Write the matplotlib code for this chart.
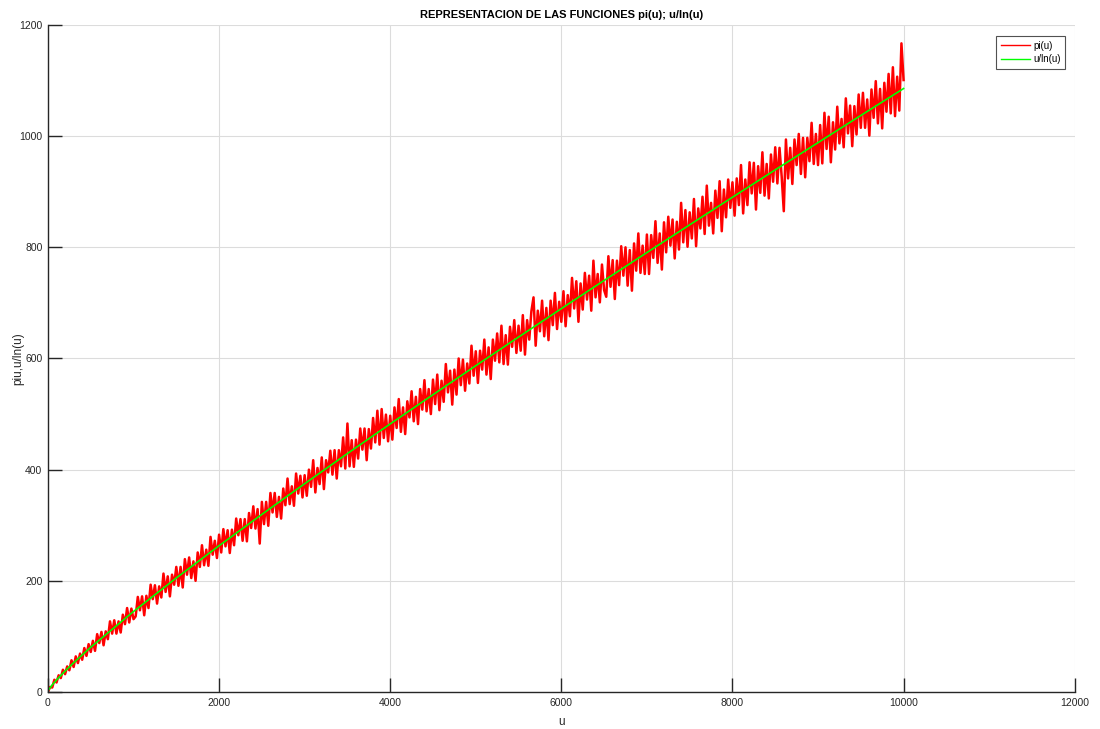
import matplotlib
matplotlib.use("Agg")
import matplotlib.pyplot as plt

plt.rcParams['font.family'] = ['Liberation Sans', 'DejaVu Sans']

# u/ln(u)
u_verde = [2, 10, 50, 100, 200, 300, 500, 1000, 1500, 2000, 2500, 3000, 3500,
           4000, 4500, 5000, 5500, 6000, 6500, 7000, 7500, 8000, 8500, 9000,
           9500, 10000]
ln_verde = [2.9, 4.3, 12.8, 21.7, 37.7, 52.6, 80.5, 144.8, 205.1, 263.1, 319.5,
            374.7, 429.0, 482.3, 534.9, 587.0, 638.5, 689.7, 740.4, 790.6,
            840.5, 890.1, 939.4, 988.4, 1037.2, 1085.7]

# pi(u) estimado cada 25 unidades (u = 25, 50, ..., 10000)
paso = 25
pi_rojo = [
    9, 8, 22, 17, 30, 25, 40, 32, 46, 39, 57, 45, 64, 52, 69, 58, 79, 65, 86, 72,
    92, 74, 104, 88, 108, 84, 109, 95, 127, 105, 129, 105, 127, 107, 139, 122, 151, 125, 150, 131,
    136, 171, 147, 172, 138, 173, 151, 193, 167, 192, 159, 190, 170, 213, 180, 208, 172, 211, 193, 225,
    191, 225, 188, 239, 211, 242, 205, 235, 200, 251, 225, 264, 228, 256, 227, 279, 247, 272, 241, 283,
    251, 293, 262, 291, 250, 292, 264, 312, 282, 311, 272, 311, 271, 322, 295, 334, 294, 329, 267, 342,
    302, 342, 299, 358, 323, 358, 315, 351, 312, 366, 336, 384, 338, 370, 335, 393, 357, 389, 350, 390,
    353, 400, 369, 417, 359, 403, 374, 422, 365, 417, 395, 434, 391, 435, 384, 435, 406, 458, 402, 483,
    406, 453, 405, 454, 420, 474, 436, 474, 417, 473, 438, 493, 449, 506, 445, 509, 457, 499, 451, 497,
    454, 512, 475, 527, 468, 512, 464, 523, 494, 541, 487, 531, 482, 545, 508, 561, 505, 545, 500, 562,
    518, 571, 507, 560, 522, 590, 539, 578, 517, 580, 535, 600, 552, 598, 542, 591, 555, 623, 569, 613,
    556, 614, 580, 634, 571, 620, 563, 634, 596, 645, 593, 659, 590, 642, 589, 657, 621, 669, 610, 659,
    614, 678, 607, 669, 634, 685, 710, 623, 686, 649, 704, 640, 691, 633, 704, 660, 718, 653, 702, 666,
    721, 658, 714, 676, 745, 690, 739, 666, 735, 688, 754, 706, 749, 686, 776, 710, 752, 701, 769, 723,
    711, 784, 729, 777, 707, 776, 732, 802, 749, 800, 731, 795, 722, 807, 758, 825, 754, 803, 752, 823,
    752, 822, 781, 847, 772, 825, 760, 845, 791, 855, 803, 850, 780, 846, 796, 880, 809, 867, 801, 863,
    816, 887, 802, 870, 834, 891, 824, 911, 839, 880, 825, 902, 853, 919, 829, 904, 854, 922, 871, 917,
    857, 924, 876, 948, 861, 922, 876, 953, 897, 952, 868, 946, 898, 971, 893, 950, 888, 967, 918, 980,
    915, 979, 928, 865, 994, 924, 979, 914, 994, 948, 1004, 932, 997, 926, 997, 955, 1024, 950, 1004, 948,
    1020, 951, 1042, 977, 1035, 953, 1025, 976, 1053, 987, 1031, 980, 1068, 1005, 1055, 982, 1054, 1003, 1075, 1015,
    1078, 1015, 1066, 1001, 1084, 1033, 1099, 1023, 1085, 1014, 1096, 1044, 1112, 1041, 1124, 1036, 1107, 1046, 1167, 1101,
]
u_rojo = [2] + [paso * (i + 1) for i in range(len(pi_rojo))]
pi_rojo = [1] + pi_rojo

xticks = [0, 2000, 4000, 6000, 8000, 10000, 12000]
yticks = [0, 200, 400, 600, 800, 1000, 1200]

fig = plt.figure(figsize=(11, 7.29), dpi=100)
ax = fig.add_axes([0.0436, 0.0508, 0.9334, 0.9149])

ax.plot(u_rojo, pi_rojo, color='#ff0000', lw=1.8, label='pi(u)')
ax.plot(u_verde, ln_verde, color='#00ff00', lw=1.2, label='u/ln(u)')

ax.set_xlim(0, 12000)
ax.set_ylim(0, 1200)
ax.set_xticks(xticks)
ax.set_yticks(yticks)
ax.grid(True, color='#dcdcdc', lw=0.8)
ax.set_axisbelow(True)
for s in ['top', 'right']:
    ax.spines[s].set_visible(False)
for s in ['left', 'bottom']:
    ax.spines[s].set_color('#262626')
    ax.spines[s].set_linewidth(1.0)
ax.tick_params(direction='in', length=10, width=1.0, colors='#262626',
               labelsize=7.5, pad=4)

ax.set_title('REPRESENTACION DE LAS FUNCIONES pi(u); u/ln(u)',
             fontsize=8, fontweight='bold', pad=5)
ax.set_xlabel('u', fontsize=8.5, color='#262626')
ax.xaxis.set_label_coords(0.5, -0.036)
ax.set_ylabel('piu,u/ln(u)', fontsize=8.5, color='#262626')
ax.yaxis.set_label_coords(-0.023, 0.5)

leg = ax.legend(loc='upper right', bbox_to_anchor=(0.991, 0.984), fontsize=7,
                frameon=True, fancybox=False, handlelength=3.0,
                borderpad=0.5, labelspacing=0.4, handletextpad=0.3,
                borderaxespad=0)
leg.get_frame().set_edgecolor('#262626')
leg.get_frame().set_linewidth(0.8)
for linea in leg.get_lines():
    linea.set_linewidth(1.0)

fig.savefig('out.png', dpi=100)
